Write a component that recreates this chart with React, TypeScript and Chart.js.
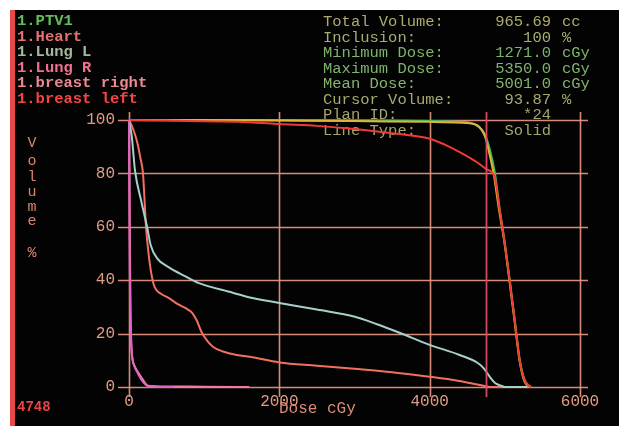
import { useEffect, useRef } from "react";
import { Chart, registerables } from "chart.js";

Chart.register(...registerables);

// ---- data (dose in cGy, volume in %) ----
const ptvDose = [0, 1000, 2000, 3000, 3500, 4000, 4300, 4535, 4650, 4734, 4800, 4867, 4933, 5000, 5066, 5133, 5200, 5266, 5310, 5350];
const ptvVol = [100, 100, 100, 99.9, 99.8, 99.6, 99.4, 99, 97.5, 94.7, 89, 80.4, 66.5, 54, 40, 25, 10, 2.6, 0.8, 0];

const yellowDose = [0, 1000, 2000, 3000, 4000, 4535, 4734, 4790, 4850, 4925, 4995, 5060, 5128, 5195, 5262, 5340];
const yellowVol = [100, 100, 99.8, 99.6, 99.3, 98.8, 94, 88, 80, 66, 54, 40, 25, 10, 2, 0];

const redDose = [0, 500, 1000, 1600, 2000, 2500, 3005, 3500, 4000, 4200, 4400, 4640, 4760, 4860, 4933, 5000, 5066, 5133, 5200, 5266, 5340];
const redVol = [100, 99.8, 99.5, 99.2, 98.5, 97.8, 96.6, 95, 93, 90.8, 88, 84, 81.5, 79, 66, 53.5, 39.5, 24.5, 9.5, 2.3, 0];

const lungLDose = [0, 20, 40, 80, 160, 240, 290, 380, 520, 745, 920, 1380, 1609, 2000, 2500, 3005, 3300, 3600, 4000, 4400, 4640, 4720, 4800, 4870, 4930, 5000, 5300];
const lungLVol = [100, 97, 93, 81, 70, 60, 53, 48, 45, 41.5, 39, 35.3, 33.5, 31.5, 29, 26.3, 23.5, 20.3, 15.8, 12, 9, 7, 3.8, 1.5, 0.7, 0, 0];

const heartDose = [0, 50, 106, 150, 186, 205, 226, 260, 300, 340, 420, 520, 650, 785, 840, 900, 970, 1050, 1120, 1250, 1436, 1609, 2000, 2500, 3000, 3500, 4000, 4300, 4668, 4800, 5000];
const heartVol = [100, 97, 92, 86, 80, 71, 60, 50, 42, 37.5, 35, 33.5, 31, 29, 27.8, 25, 20.3, 17, 15, 13.3, 12, 11.3, 9.2, 8, 6.8, 5.5, 3.8, 2.7, 0.75, 0, 0];

const lungRDose = [0, 10, 20, 30, 50, 80, 120, 180, 250, 500, 1000, 1600];
const lungRVol = [100, 60, 30, 16.5, 10, 7.5, 5.5, 3, 0.5, 0.2, 0.1, 0];

const breastRDose = [0, 10, 25, 40, 70, 120, 200, 260, 600];
const breastRVol = [100, 45, 20, 12, 8, 5, 1.5, 0.3, 0];

const xTicks = [0, 2000, 4000, 6000];
const yTicks = [0, 20, 40, 60, 80, 100];
const cursorDose = 4748;

const structureNames = ["1.PTV1", "1.Heart", "1.Lung L", "1.Lung R", "1.breast right", "1.breast left"];
const structureColors = ["#62bd5c", "#e57272", "#a6b89c", "#f2708e", "#e98a92", "#f44444"];

const infoLabels = ["Total Volume:", "Inclusion:", "Minimum Dose:", "Maximum Dose:", "Mean Dose:", "Cursor Volume:", "Plan ID:", "Line Type:"];
const infoValues = ["965.69", "100", "1271.0", "5350.0", "5001.0", "93.87", "*24", "Solid"];
const infoUnits = ["cc", "%", "cGy", "cGy", "cGy", "%", "", ""];
const infoColors = ["#aeaa6c", "#a8ae70", "#7cb46c", "#7cb46c", "#86b46e", "#aaaa70", "#a4a46e", "#a4a46e"];

const yTitleLetters = ["V", "o", "l", "u", "m", "e", "%"];
const xTitle = "Dose cGy";
const cursorLabel = "4748";

const toPts = (d: number[], v: number[]) => d.map((x, i) => ({ x, y: v[i] }));

const MONO = "'Liberation Mono', 'DejaVu Sans Mono', monospace";

export default function App() {
  const ref = useRef<HTMLCanvasElement | null>(null);

  useEffect(() => {
    const canvas = ref.current;
    if (!canvas) return;

    const panelPlugin = {
      id: "panel",
      beforeDraw(chart: any) {
        const ctx = chart.ctx;
        ctx.save();
        ctx.fillStyle = "#ffffff";
        ctx.fillRect(0, 0, chart.width, chart.height);
        ctx.fillStyle = "#030303";
        ctx.fillRect(10, 10, chart.width - 10, chart.height - 10);
        ctx.fillStyle = "#e84848";
        ctx.fillRect(10, 10, 5, chart.height - 10);
        ctx.restore();
      },
      beforeDatasetsDraw(chart: any) {
        const ctx = chart.ctx;
        const xs = chart.scales.x;
        const ys = chart.scales.y;
        const a = chart.chartArea;
        ctx.save();
        ctx.strokeStyle = "rgba(226,146,128,0.95)";
        ctx.lineWidth = 1.6;
        xTicks.forEach((t) => {
          const px = Math.round(xs.getPixelForValue(t)) + 0.5;
          ctx.beginPath();
          ctx.moveTo(px, a.top - 8);
          ctx.lineTo(px, a.bottom + 10);
          ctx.stroke();
        });
        yTicks.forEach((t) => {
          const py = Math.round(ys.getPixelForValue(t)) + 0.5;
          ctx.beginPath();
          ctx.moveTo(a.left - 11, py);
          ctx.lineTo(a.right + 8, py);
          ctx.stroke();
        });

        // legend (structure names)
        ctx.textBaseline = "middle";
        ctx.textAlign = "left";
        ctx.font = `bold 15.5px ${MONO}`;
        structureNames.forEach((n, i) => {
          ctx.fillStyle = structureColors[i];
          ctx.fillText(n, 17, 21 + i * 15.6);
        });

        // info block
        ctx.font = `15.5px ${MONO}`;
        infoLabels.forEach((lab, i) => {
          const y = 22 + i * 15.5;
          ctx.fillStyle = infoColors[i];
          ctx.textAlign = "left";
          ctx.fillText(lab, 323, y);
          ctx.textAlign = "right";
          ctx.fillText(infoValues[i], 551, y);
          if (infoUnits[i]) {
            ctx.textAlign = "left";
            ctx.fillText(infoUnits[i], 562, y);
          }
        });

        // y title (stacked letters)
        ctx.fillStyle = "#dc8470";
        ctx.font = `15px ${MONO}`;
        ctx.textAlign = "center";
        const ly = [143, 161, 177, 192, 207, 221, 253];
        yTitleLetters.forEach((c, i) => ctx.fillText(c, 32, ly[i]));

        // x title
        ctx.font = `16px ${MONO}`;
        ctx.textAlign = "left";
        ctx.fillStyle = "#dc8c78";
        ctx.fillText(xTitle, 279, 409);

        // cursor dose
        ctx.font = `bold 14px ${MONO}`;
        ctx.fillStyle = "#ea4444";
        ctx.fillText(cursorLabel, 17, 407);
        ctx.restore();
      },
      afterDatasetsDraw(chart: any) {
        const ctx = chart.ctx;
        const xs = chart.scales.x;
        const a = chart.chartArea;
        const px = Math.round(xs.getPixelForValue(cursorDose)) + 0.5;
        ctx.save();
        ctx.strokeStyle = "#d8485e";
        ctx.lineWidth = 1.8;
        ctx.beginPath();
        ctx.moveTo(px, a.top - 8);
        ctx.lineTo(px, a.bottom + 10);
        ctx.stroke();
        ctx.restore();
      },
    };

    const mk = (label: string, d: number[], v: number[], color: string, w = 2) => ({
      label,
      data: toPts(d, v),
      borderColor: color,
      borderWidth: w,
      pointRadius: 0,
      fill: false,
      clip: false as any,
      cubicInterpolationMode: "monotone" as const,
    });

    const chart = new Chart(canvas, {
      type: "line",
      data: {
        datasets: [
          mk("1.breast right", breastRDose, breastRVol, "#e066c4"),
          mk("1.Lung R", lungRDose, lungRVol, "#f27aa8"),
          mk("1.Lung L", lungLDose, lungLVol, "#a6d0cc"),
          mk("1.Heart", heartDose, heartVol, "#f2705e"),
          mk("1.breast left", redDose, redVol, "#f23a32"),
          mk("1.PTV1 (copy)", yellowDose, yellowVol, "#e0b438"),
          mk("1.PTV1", ptvDose, ptvVol, "#34b85a"),
        ],
      },
      plugins: [panelPlugin],
      options: {
        animation: false,
        responsive: false,
        devicePixelRatio: 1,
        layout: { padding: { top: 120, right: 39, bottom: 0, left: 0 } },
        plugins: { legend: { display: false }, tooltip: { enabled: false } },
        scales: {
          x: {
            type: "linear",
            min: 0,
            max: 6000,
            border: { display: false },
            grid: { display: false, drawTicks: false },
            ticks: {
              stepSize: 2000,
              padding: 5,
              maxRotation: 0,
              color: "#e29c84",
              font: { family: MONO, size: 16 },
              callback: (v: any) => String(v),
            },
            afterFit: (s: any) => {
              s.height = 39;
            },
          },
          y: {
            type: "linear",
            min: 0,
            max: 100,
            border: { display: false },
            grid: { display: false, drawTicks: false },
            ticks: {
              stepSize: 20,
              padding: 14,
              color: "#e29c84",
              font: { family: MONO, size: 16 },
              callback: (v: any) => String(v),
            },
            afterFit: (s: any) => {
              s.width = 129;
            },
          },
        },
      },
    });
    return () => chart.destroy();
  }, []);

  return (
    <div style={{ position: "absolute", left: 0, top: 0, width: 619, height: 426, background: "#fff" }}>
      <canvas ref={ref} width={619} height={426} style={{ display: "block" }} />
    </div>
  );
}
